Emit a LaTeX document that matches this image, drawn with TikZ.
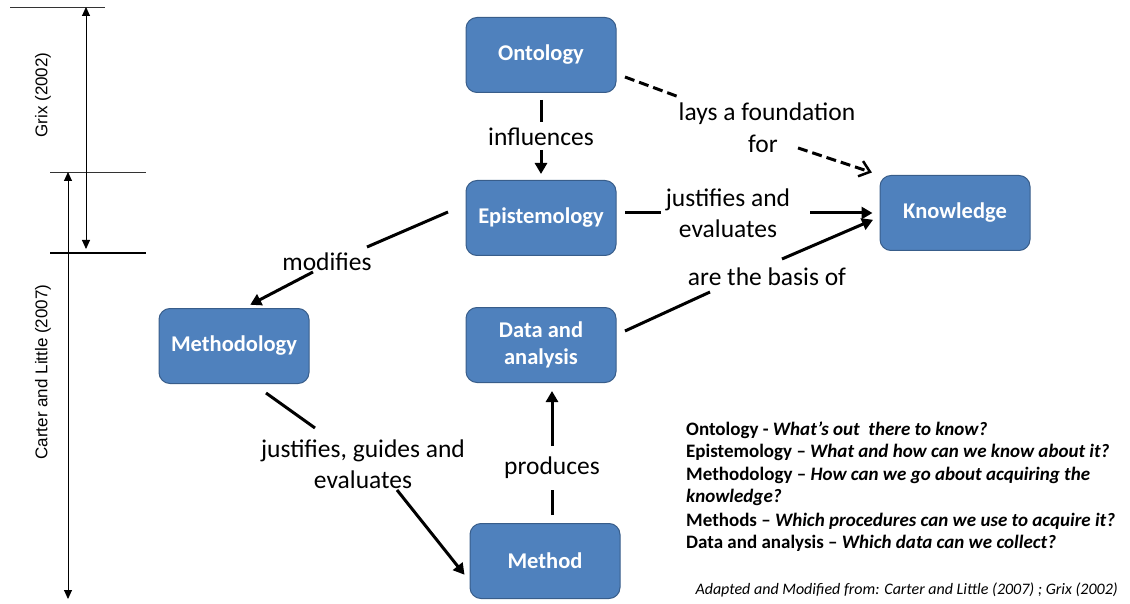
\documentclass[tikz,border=0pt]{standalone}
\usepackage{fontspec}
\setmainfont{Carlito}
\newfontfamily\arialf{Liberation Sans}
\usetikzlibrary{arrows.meta}
\definecolor{boxblue}{HTML}{4F81BD}
\definecolor{boxedge}{HTML}{385D8A}
\begin{document}
\begin{tikzpicture}[x=1pt,y=-1pt,
  box/.style={draw=boxedge, line width=1pt, fill=boxblue, rounded corners=11pt,
    minimum width=150pt, minimum height=75pt, text=white, align=center,
    font=\fontsize{22.5}{27}\selectfont\bfseries},
  lbl/.style={font=\fontsize{25.5}{31}\selectfont, align=center, inner sep=0pt},
  conn/.style={line width=3pt, draw=black},
  arr/.style={conn, -{Triangle[length=11pt,width=12pt]}},
  dsh/.style={line width=3pt, dash pattern=on 10pt off 5pt},
  dsharr/.style={dsh, -{Straight Barb[length=10pt,width=16pt,line width=2.5pt]}},
  thin/.style={line width=0.8pt, draw=black!80},
  dimarr/.style={line width=0.9pt, {Triangle[length=9pt,width=8pt]}-{Triangle[length=9pt,width=8pt]}},
  legend/.style={font=\fontsize{19}{22}\selectfont\bfseries, anchor=west, inner sep=0pt},
]
\useasboundingbox (0,0) rectangle (1130,604);

% boxes
\node[box] (onto) at (541,55) {Ontology};
\node[box] (epi) at (541,218) {Epistemology};
\node[box] (know) at (955,213) {Knowledge};
\node[box] (meth) at (234,346) {Methodology};
\node[box] (data) at (541,345) {Data and\\analysis};
\node[box] (method) at (545,561) {Method};

% labels
\node[lbl] (infl) at (541,137) {influences};
\node[lbl] (lays) at (767,114) {lays a foundation};
\node[lbl] (for) at (763,144) {for};
\node[lbl] (just) at (728,213) {justifies and\\evaluates};
\node[lbl] (basis) at (767,277) {are the basis of};
\node[lbl] (modi) at (327,262) {modifies};
\node[lbl] (jge) at (363,464) {justifies, guides and\\evaluates};
\node[lbl] (prod) at (552,468) {produces};

% connector breakpoints
\coordinate (o2) at (541,122);
\coordinate (o3) at (541,150);
\coordinate (d1) at (625,77);
\coordinate (d2) at (679,97);
\coordinate (d3) at (798,148);
\coordinate (e1) at (625,213);
\coordinate (e2) at (661,213);
\coordinate (e3) at (810,213);
\coordinate (b1) at (625,331);
\coordinate (b2) at (710,292);
\coordinate (b3) at (782,259);
\coordinate (m1) at (448,212);
\coordinate (m2) at (367,247);
\coordinate (m3) at (313,272);
\coordinate (j1) at (266,393);
\coordinate (j2) at (315,428);
\coordinate (j3) at (397,490);
\coordinate (p1) at (552,515);
\coordinate (p2) at (552,490);
\coordinate (p3) at (552,446);

% connectors
\draw[conn, shorten <=7pt] (onto.south) -- (o2);
\draw[arr, shorten >=6pt] (o3) -- (epi.north);
\draw[dsh] (d1) -- (d2);
\draw[dsharr, shorten >=8pt] (d3) -- (know.north west);
\draw[conn] (e1) -- (e2);
\draw[arr, shorten >=7pt] (e3) -- (know.west);
\draw[conn] (b1) -- (b2);
\draw[arr, shorten >=7pt] (b3) -- ([yshift=-4pt]know.west);
\draw[conn] (m1) -- (m2);
\draw[arr, shorten >=7pt] (m3) -- ([xshift=10pt]meth.north);
\draw[conn] (j1) -- (j2);
\draw[arr, shorten >=8pt] (j3) -- ([yshift=-20pt]method.west);
\draw[conn] (p1) -- (p2);
\draw[arr, shorten >=8pt] (p3) -- ([xshift=11pt]data.south);

% left dimension lines
\coordinate (t1) at (10,7);
\coordinate (t2) at (105,7);
\coordinate (h1) at (50,172);
\coordinate (h2) at (146,172);
\coordinate (k1) at (50,253);
\coordinate (k2) at (146,253);
\coordinate (g1) at (86,7);
\coordinate (g2) at (86,249);
\coordinate (c1) at (68,172);
\coordinate (c2) at (68,599);
\draw[thin] (t1) -- (t2);
\draw[thin] (h1) -- (h2);
\draw[line width=1.6pt] (k1) -- (k2);
\draw[dimarr] (g1) -- (g2);
\draw[dimarr] (c1) -- (c2);
\node[rotate=90, font=\arialf\fontsize{17}{20}\selectfont, inner sep=0pt] (grix) at (43,95) {Grix (2002)};
\node[rotate=90, font=\arialf\fontsize{17}{20}\selectfont, inner sep=0pt] (carter) at (43,372) {Carter and Little (2007)};

% legend
\node[legend] (l1) at (686,430) {Ontology - \textit{What’s out\ \ there to know?}};
\node[legend] (l2) at (686,452) {Epistemology -- \textit{What and how can we know about it?}};
\node[legend] (l3) at (686,475) {Methodology -- \textit{How can we go about acquiring the}};
\node[legend] (l4) at (686,497) {\textit{knowledge?}};
\node[legend] (l5) at (686,521) {Methods -- \textit{Which procedures can we use to acquire it?}};
\node[legend] (l6) at (686,543) {Data and analysis -- \textit{Which data can we collect?}};
\node[font=\fontsize{16}{18}\selectfont\itshape, anchor=east, inner sep=0pt] (src) at (1118,590) {Adapted and Modified from: Carter and Little (2007) ; Grix (2002)};
\end{tikzpicture}
\end{document}
